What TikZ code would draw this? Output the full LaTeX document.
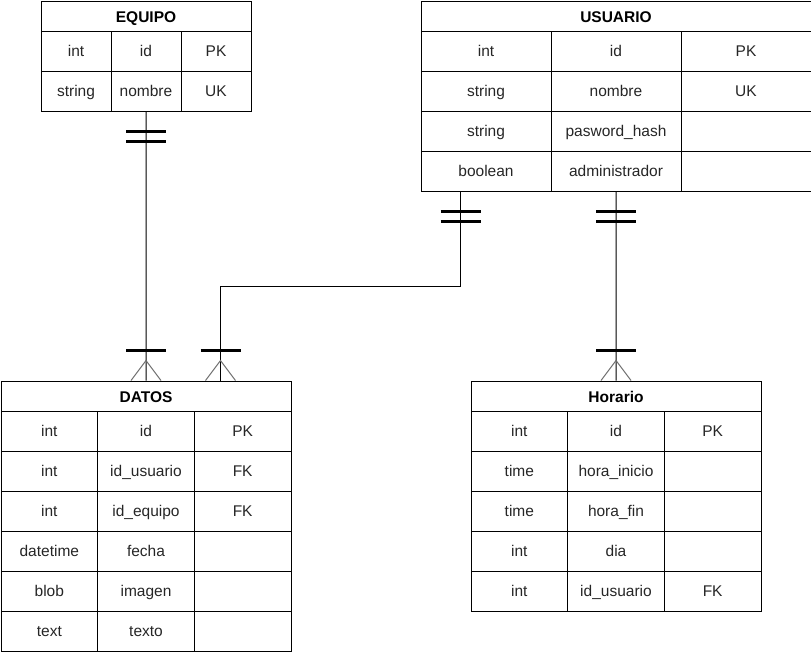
\documentclass[tikz,border=0pt]{standalone}
\usepackage{fontspec}
\setmainfont{Liberation Sans}
\usetikzlibrary{calc}

\definecolor{footgray}{RGB}{110,110,110}

\tikzset{
  cell/.style={draw=black, line width=1pt, rectangle, inner sep=0pt,
    minimum height=40pt, anchor=north west, text height=11pt, text depth=0pt,
    font=\fontsize{15.5}{18}\selectfont, text=black!85},
  titlecell/.style={cell, minimum height=30pt, text height=13pt,
    font=\fontsize{15.5}{18}\selectfont\bfseries, text=black},
  conn/.style={draw=black, line width=1pt},
  barline/.style={draw=black, line width=3pt},
  footline/.style={draw=footgray, line width=1pt},
  % two bars: exactly one
  onebars/.pic={\draw[barline] (-20,20) -- (20,20) (-20,30) -- (20,30);},
  % bar plus crow's foot: one or many
  crowfoot/.pic={\draw[barline] (-20,-30) -- (20,-30);
                 \draw[footline] (-15,0) -- (0,-20) -- (15,0);}
}

% \ertable{name}{x}{y}{column width}{title}{type/field/key, ...}
\newcommand{\ertable}[6]{%
  \node[titlecell, minimum width={3*#4pt}] (#1-title) at (#2,#3) {#5};
  \foreach \ty/\fn/\ky [count=\r] in {#6} {
    \node[cell, minimum width={#4pt}] (#1-r\r c1) at (#2,{#3+30+(\r-1)*40}) {\ty};
    \node[cell, minimum width={#4pt}] (#1-r\r c2) at ({#2+#4},{#3+30+(\r-1)*40}) {\fn};
    \node[cell, minimum width={#4pt}] (#1-r\r c3) at ({#2+2*#4},{#3+30+(\r-1)*40}) {\ky};
  }%
}

\begin{document}
\begin{tikzpicture}[x=1pt, y=-1pt]
  \useasboundingbox (0,0) rectangle (811,651);

  \ertable{eq}{40.5}{0.5}{70}{EQUIPO}{int/id/PK, string/nombre/UK}
  \ertable{us}{420.5}{0.5}{130}{USUARIO}{int/id/PK, string/nombre/UK,
    string/pasword\_hash/, boolean/administrador/}
  \ertable{da}{0.5}{380.5}{96.667}{DATOS}{int/id/PK, int/id\_usuario/FK,
    int/id\_equipo/FK, datetime/fecha/, blob/imagen/, text/texto/}
  \ertable{ho}{470.5}{380.5}{96.667}{Horario}{int/id/PK, time/hora\_inicio/,
    time/hora\_fin/, int/dia/, int/id\_usuario/FK}

  % connector end points off the column centres
  \coordinate (u1) at ([xshift=40pt]us-r4c1.south west);
  \coordinate (d2) at ([xshift=220pt]da-title.north west);

  % EQUIPO -> DATOS
  \draw[conn] (eq-r2c2.south) -- (da-title.north);
  \pic at (eq-r2c2.south) {onebars};
  \pic at (da-title.north) {crowfoot};

  % USUARIO -> DATOS
  \draw[conn] (u1) -- ++(0,95) -| (d2);
  \pic at (u1) {onebars};
  \pic at (d2) {crowfoot};

  % USUARIO -> Horario
  \draw[conn] (us-r4c2.south) -- (ho-title.north);
  \pic at (us-r4c2.south) {onebars};
  \pic at (ho-title.north) {crowfoot};
\end{tikzpicture}
\end{document}
